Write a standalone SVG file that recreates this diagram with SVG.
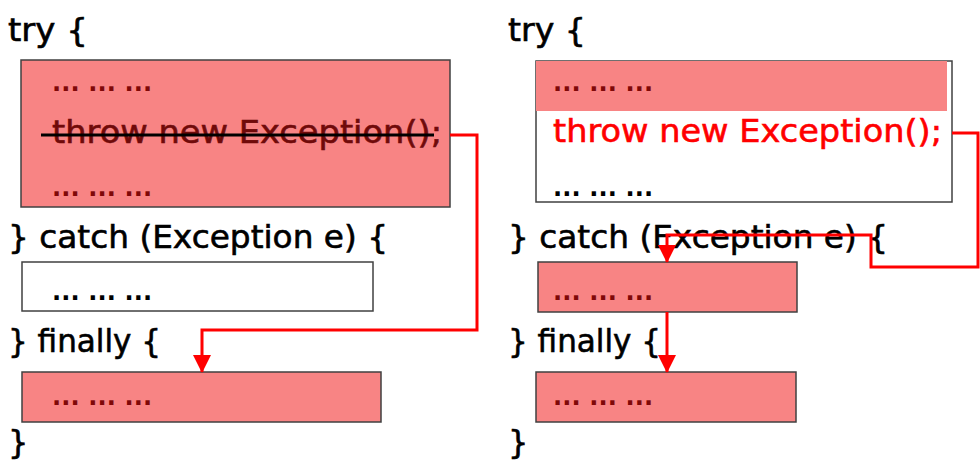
<svg xmlns="http://www.w3.org/2000/svg" width="980" height="467" viewBox="0 0 980 467">
<defs>
<marker id="arrow" viewBox="0 0 18 18" markerWidth="18" markerHeight="18" refX="17" refY="9" orient="auto" markerUnits="userSpaceOnUse">
<path d="M0,0 L18,9 L0,18 Z" fill="#ff0000"/>
</marker>
<style>
.code{font-family:"DejaVu Sans","Liberation Sans",sans-serif;font-size:32px;fill:#000;stroke:#000;stroke-width:0.6}
.dots{font-family:"DejaVu Sans","Liberation Sans",sans-serif;font-size:24px;font-weight:bold}
.dk{fill:#800808}
.bk{fill:#000}
.red{fill:#ff0000;stroke:#ff0000}
.maroon{fill:#700a0a;stroke:#700a0a}
.hatch{fill:#f88484;stroke:#404040;stroke-width:1.5}
.plain{fill:#fff;stroke:#404040;stroke-width:1.5}
.conn{fill:none;stroke:#ff0000;stroke-width:3}
</style>
</defs>

<g id="left-code">
<text class="code" x="8" y="41" textLength="80" lengthAdjust="spacingAndGlyphs">try {</text>
<text class="code" x="8" y="248" textLength="380" lengthAdjust="spacingAndGlyphs">} catch (Exception e) {</text>
<text class="code" x="8" y="352" textLength="153" lengthAdjust="spacingAndGlyphs">} finally {</text>
<text class="code" x="8" y="453">}</text>
</g>

<g id="left-try-block">
<rect class="hatch" x="21" y="60" width="429" height="147"/>
<text class="dots dk" x="52" y="91" textLength="100" lengthAdjust="spacing">... ... ...</text>
<text class="code maroon" x="52" y="143" textLength="390" lengthAdjust="spacingAndGlyphs">throw new Exception();</text>
<line x1="41" y1="135" x2="434" y2="135" stroke="#000" stroke-width="3"/>
<text class="dots dk" x="52" y="196" textLength="100" lengthAdjust="spacing">... ... ...</text>
</g>

<g id="left-catch-block">
<rect class="plain" x="22" y="262" width="351" height="49"/>
<text class="dots bk" x="52" y="300" textLength="100" lengthAdjust="spacing">... ... ...</text>
</g>

<g id="left-finally-block">
<rect class="hatch" x="22" y="372" width="359" height="50"/>
<text class="dots dk" x="52" y="405" textLength="100" lengthAdjust="spacing">... ... ...</text>
</g>

<g id="right-code">
<text class="code" x="508" y="41" textLength="78" lengthAdjust="spacingAndGlyphs">try {</text>
<text class="code" x="508" y="248" textLength="380" lengthAdjust="spacingAndGlyphs">} catch (Exception e) {</text>
<text class="code" x="508" y="352" textLength="153" lengthAdjust="spacingAndGlyphs">} finally {</text>
<text class="code" x="508" y="453">}</text>
</g>

<g id="right-try-block">
<rect class="plain" x="536" y="61" width="416" height="141"/>
<rect x="536" y="61" width="411" height="50" fill="#f88484"/>
<text class="dots dk" x="553" y="91" textLength="100" lengthAdjust="spacing">... ... ...</text>
<text class="code red" x="553" y="142" textLength="389" lengthAdjust="spacingAndGlyphs">throw new Exception();</text>
<text class="dots bk" x="553" y="196" textLength="100" lengthAdjust="spacing">... ... ...</text>
</g>

<g id="right-catch-block">
<rect class="hatch" x="538" y="262" width="259" height="50"/>
<text class="dots dk" x="553" y="300" textLength="100" lengthAdjust="spacing">... ... ...</text>
</g>

<g id="right-finally-block">
<rect class="hatch" x="536" y="372" width="260" height="50"/>
<text class="dots dk" x="553" y="405" textLength="100" lengthAdjust="spacing">... ... ...</text>
</g>

<g id="connectors">
<polyline class="conn" points="450,135 477,135 477,330 202,330 202,372" marker-end="url(#arrow)"/>
<polyline class="conn" points="952,133 978,133 978,267 871,267 871,235 667,235 667,262" marker-end="url(#arrow)"/>
<polyline class="conn" points="667,312 667,372" marker-end="url(#arrow)"/>
</g>
</svg>
